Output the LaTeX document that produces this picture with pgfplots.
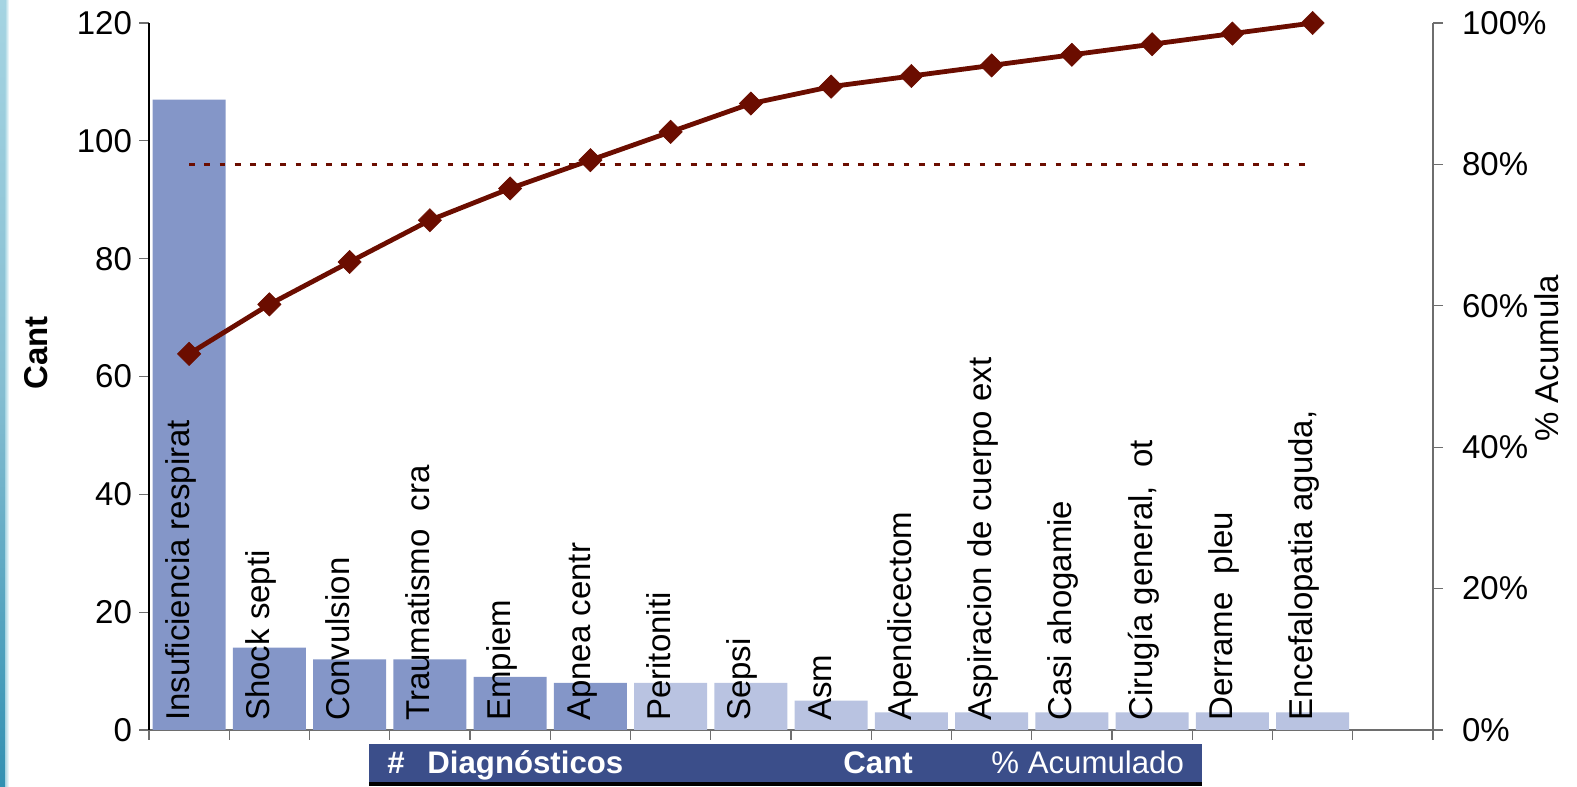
\documentclass[border=0pt]{standalone}
\usepackage{fontspec}
\setmainfont{Liberation Sans}
\usepackage{pgfplots}
\pgfplotsset{compat=1.18}
\definecolor{bardark}{RGB}{132,150,200}
\definecolor{barlight}{RGB}{185,195,225}
\definecolor{maroon}{RGB}{107,13,0}
\definecolor{bandcol}{RGB}{59,78,138}
\definecolor{stripA}{RGB}{50,145,178}
\definecolor{stripB}{RGB}{165,212,226}
\definecolor{axgray}{RGB}{110,110,110}
\begin{document}
\begin{tikzpicture}[font=\fontsize{16.5}{19.8}\selectfont]
\path[use as bounding box] (0,0) rectangle (788.5pt,393pt);
\shade[top color=stripB, bottom color=stripA, middle color=stripA!60!white] (0,0) rectangle (2.5pt,393pt);
\shade[left color=stripB, right color=white] (2.5pt,0) rectangle (4.5pt,393pt);
\begin{axis}[
  at={(74.5pt,28pt)}, anchor=south west,
  scale only axis, width=642pt, height=353.5pt,
  xmin=0.5, xmax=16.5, ymin=0, ymax=120,
  axis x line*=bottom, axis y line*=left,
  axis line style={-},
  x axis line style={axgray, line width=0.6pt},
  y axis line style={black, line width=0.6pt},
  xtick={0.5,1.5,...,16.5}, xticklabels={},
  ytick={0,20,...,120},
  tick align=outside, major tick length=5pt,
  tick style={axgray, line width=0.6pt},
  /pgf/number format/assume math mode=true,
  yticklabel={\pgfmathprintnumber{\tick}},
  yticklabel style={font=\fontsize{16.5}{19.8}\selectfont},
  ybar, bar width=36.5pt, bar shift=0pt,
  clip=false,
]
\addplot[fill=bardark, draw=none] coordinates {(1,107) (2,14) (3,12) (4,12) (5,9) (6,8)};
\addplot[fill=barlight, draw=none] coordinates {(7,8) (8,8) (9,5) (10,3) (11,3) (12,3) (13,3) (14,3) (15,3)};
\begin{scope}[every node/.style={rotate=90, anchor=base west, inner sep=0pt}]
\node at (axis cs:1,1.5) {Insuficiencia respirat};
\node at (axis cs:2,1.5) {Shock septi};
\node at (axis cs:3,1.5) {Convulsion};
\node at (axis cs:4,1.5) {Traumatismo\ \ cra};
\node at (axis cs:5,1.5) {Empiem};
\node at (axis cs:6,1.5) {Apnea centr};
\node at (axis cs:7,1.5) {Peritoniti};
\node at (axis cs:8,1.5) {Sepsi};
\node at (axis cs:9,1.5) {Asm};
\node at (axis cs:10,1.5) {Apendicectom};
\node at (axis cs:11,1.5) {Aspiracion de cuerpo ext};
\node at (axis cs:12,1.5) {Casi ahogamie};
\node at (axis cs:13,1.5) {Cirugía general,\ \ ot};
\node at (axis cs:14,1.5) {Derrame\ \ pleu};
\node at (axis cs:15,1.5) {Encefalopatia aguda,};
\end{scope}
\end{axis}
\begin{axis}[
  at={(74.5pt,28pt)}, anchor=south west,
  scale only axis, width=642pt, height=353.5pt,
  xmin=0.5, xmax=16.5, ymin=0, ymax=100,
  axis x line=none, axis y line*=right,
  axis line style={-},
  y axis line style={axgray, line width=0.6pt},
  ytick={0,20,...,100},
  tick align=outside, major tick length=5pt,
  tick style={axgray, line width=0.6pt},
  /pgf/number format/assume math mode=true,
  yticklabel={\pgfmathprintnumber{\tick}\%},
  yticklabel style={font=\fontsize{16.5}{19.8}\selectfont, xshift=6pt},
  clip=false,
]
\addplot[maroon, line width=1.6pt, dash pattern=on 2.9pt off 4.7pt] coordinates {(1,80) (15,80)};
\addplot[maroon, line width=2.4pt, mark=square*, mark size=4.1pt, mark options={rotate=45, solid, line width=0.3pt, fill=maroon}] coordinates {(1,53.2) (2,60.2) (3,66.2) (4,72.1) (5,76.6) (6,80.6) (7,84.6) (8,88.6) (9,91.0) (10,92.5) (11,94.0) (12,95.5) (13,97.0) (14,98.5) (15,100)};
\end{axis}
\fill[bandcol] (184.5pt,2pt) rectangle (601pt,21pt);
\fill[black] (184.5pt,0pt) rectangle (601pt,2pt);
\begin{scope}[every node/.style={anchor=base west, inner sep=0pt, text=white, font=\fontsize{15.6}{18}\selectfont}]
\node at (193.5pt,6pt) {\bfseries \#};
\node at (213.5pt,6pt) {\bfseries Diagnósticos};
\node at (421.5pt,6pt) {\bfseries Cant};
\node at (495.5pt,6pt) {\% Acumulado};
\end{scope}
\node[rotate=90, anchor=base west, inner sep=0pt, font=\fontsize{16.5}{19.8}\selectfont\bfseries] at (23.5pt,198pt) {Cant};
\node[rotate=90, anchor=base west, inner sep=0pt] at (779pt,172pt) {\% Acumula};
\end{tikzpicture}
\end{document}
